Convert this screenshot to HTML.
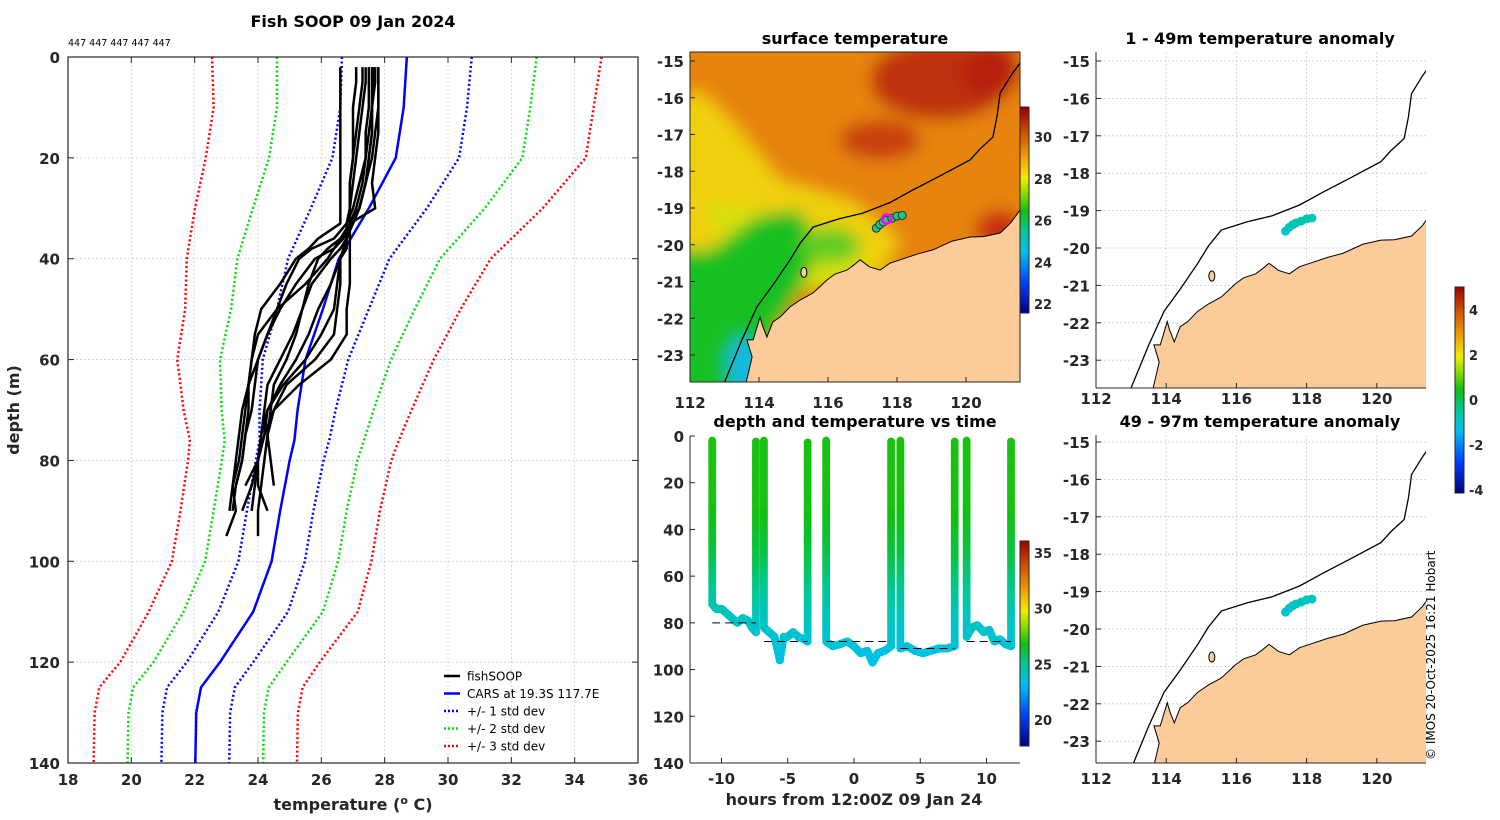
<!DOCTYPE html>
<html><head><meta charset="utf-8"><style>
html,body{margin:0;padding:0;background:#fff;}
svg{display:block;font-family:"DejaVu Sans","Liberation Sans",sans-serif;}
.tk{font-size:15px;font-weight:bold;fill:#262626;}
.ttl{font-size:16px;font-weight:bold;fill:#000;}
</style></head><body>
<svg id="fig" width="1500" height="820" viewBox="0 0 1500 820" xmlns="http://www.w3.org/2000/svg">
<defs>
<filter id="blur" x="-20%" y="-20%" width="140%" height="140%"><feGaussianBlur stdDeviation="8"/></filter>
<clipPath id="clipSST"><rect x="690" y="52" width="330" height="330"/></clipPath>
<clipPath id="clipR1"><rect x="1096" y="52" width="330" height="336"/></clipPath>
<clipPath id="clipR2"><rect x="1096" y="435" width="330" height="328"/></clipPath>
<clipPath id="clipL"><rect x="68" y="57" width="570" height="706"/></clipPath>
</defs>
<text x="353" y="27" text-anchor="middle" style="font-size:16px;font-weight:bold">Fish SOOP 09 Jan 2024</text>
<text x="68" y="46" style="font-size:9.5px">447 447 447 447 447</text>
<text transform="translate(19,410) rotate(-90)" text-anchor="middle" class="tk" style="font-size:16px">depth (m)</text>
<text x="353" y="810" text-anchor="middle" class="tk" style="font-size:16px">temperature (<tspan dy="-6" style="font-size:11px">o</tspan><tspan dy="6"> C)</tspan></text>
<text x="855" y="44" text-anchor="middle" class="ttl">surface temperature</text>
<text x="855" y="427" text-anchor="middle" class="ttl">depth and temperature vs time</text>
<text x="854" y="805" text-anchor="middle" class="tk" style="font-size:16px">hours from 12:00Z 09 Jan 24</text>
<text x="1260" y="44" text-anchor="middle" class="ttl">1 - 49m temperature anomaly</text>
<text x="1260" y="427" text-anchor="middle" class="ttl">49 - 97m temperature anomaly</text>
<text transform="translate(1435,760) rotate(-90)" style="font-size:12px">© IMOS 20-Oct-2025 16:21 Hobart</text>
</svg>
<script>
// ---------- DATA ----------
const carsDepth = [0,10,20,30,40,50,60,70,76,80,90,100,110,120,125,130,140];
const carsMean  = [28.7,28.6,28.35,27.5,26.55,26.05,25.5,25.25,25.15,25.0,24.7,24.43,23.85,22.8,22.2,22.05,22.02];
const carsStd   = [2.05,2.0,2.0,1.83,1.6,1.45,1.35,1.2,1.1,1.07,1.05,1.05,1.1,1.05,1.07,1.07,1.07];
const profDepth = [2,5,10,15,20,25,30,33,36,38,40,45,50,55,60,65,70,75,80,85,90,95];
const prof1 = [26.6,26.6,26.6,26.6,26.6,26.6,26.6,26.6,25.9,25.6,25.2,24.7,24.1,23.9,23.8,23.7,23.6,23.5,23.4,23.2,23.3,23.0];
const prof2 = [27.8,27.8,27.8,27.8,27.7,27.6,27.7,26.9,26.6,26.4,26.2,25.5,24.6,24.0,23.8,23.7,23.7,23.6,23.5,23.3,23.2];
const prof3 = [27.3,27.3,27.2,27.1,27.0,26.9,26.9,26.9,26.9,26.9,26.9,26.9,26.8,26.8,26.3,25.3,24.5,24.2,24.0,23.9,23.8];
const prof4 = [27.5,27.5,27.5,27.4,27.4,27.3,27.1,26.9,26.8,26.7,26.6,26.5,26.4,26.0,25.5,24.8,24.3,24.2,24.0,23.6];
const prof5 = [27.7,27.7,27.6,27.6,27.5,27.4,27.2,27.0,26.8,26.6,26.3,25.7,25.4,25.1,24.7,24.3,24.2,24.1,24.0,24.0,24.3];
const prof6 = [27.6,27.6,27.6,27.6,27.5,27.4,27.2,26.9,26.7,26.4,25.8,25.2,24.7,24.3,24.0,23.9,23.8,23.6,23.5,23.3];
const prof7 = [27.1,27.1,27.0,27.0,27.0,26.9,26.9,26.8,26.8,26.7,26.6,26.6,26.5,26.4,25.8,24.9,24.5,24.3,24.2,24.1,24.0,24.0];
const prof8 = [27.4,27.4,27.3,27.2,27.1,27.0,26.9,26.9,26.8,26.8,26.6,26.3,25.9,25.6,25.2,24.7,24.3,24.1,24.0,23.8,23.5];
const prof9 = [27.8,27.8,27.8,27.7,27.6,27.4,27.2,27.0,26.6,26.2,25.9,25.6,25.4,25.2,24.9,24.5,24.4,24.3,24.4,24.5];
const prof10= [27.65,27.65,27.6,27.5,27.4,27.2,27.0,26.8,26.4,25.7,25.3,24.9,24.6,24.3,24.0,23.7,23.5,23.4,23.3,23.2,23.1];
const profiles = [prof1,prof2,prof3,prof4,prof5,prof6,prof7,prof8,prof9,prof10];
const tempTicks = [18,20,22,24,26,28,30,32,34,36];
const depthTicks = [0,20,40,60,80,100,120,140];

const seg1T=[-10.7,-10.4,-10.0,-9.6,-9.2,-8.8,-8.4,-8.0,-7.7,-7.4];
const seg1D=[72,74,74,76,78,80,78,79,82,84];
const seg2T=[-6.8,-6.4,-6.0,-5.6,-5.3,-5.0,-4.6,-4.2,-3.8,-3.5];
const seg2D=[82,84,86,96,86,86,84,86,87,88];
const seg3T=[-2.1,-1.6,-1.0,-0.5,0,0.5,1.0,1.4,1.8,2.3,2.8];
const seg3D=[88,90,89,88,90,93,92,97,93,92,90];
const seg4T=[3.5,4.0,4.6,5.2,5.8,6.4,7.0,7.6];
const seg4D=[91,90,92,93,92,91,91,90];
const seg5T=[8.5,8.9,9.3,9.8,10.2,10.6,11.0,11.4,11.85];
const seg5D=[86,82,81,84,83,88,87,89,90];
const segTimes=[seg1T,seg2T,seg3T,seg4T,seg5T];
const segDepths=[seg1D,seg2D,seg3D,seg4D,seg5D];
const meanBottom=[80,88,88,91,88];
const hourTicks=[-10,-5,0,5,10];
const tdDepthTicks=[0,20,40,60,80,100,120,140];

const coastLon=[121.6,121.57,121.3,120.99,120.5,120.12,119.6,119.04,118.6,118.09,117.8,117.51,117.2,116.93,116.75,116.55,116.2,115.97,115.57,115.2,114.90,114.61,114.4,114.23,114.1,114.03,113.83,113.65,113.80,113.59];
const coastLat=[-19.0,-19.05,-19.4,-19.68,-19.78,-19.79,-19.9,-20.14,-20.25,-20.41,-20.5,-20.69,-20.6,-20.41,-20.55,-20.69,-20.8,-20.96,-21.31,-21.5,-21.69,-21.97,-22.1,-22.51,-22.2,-21.97,-22.59,-22.59,-23.05,-23.9];
const shelfLon=[112.93,113.5,113.94,114.4,114.90,115.2,115.57,116.3,117.01,117.8,118.46,119.3,120.12,120.4,120.78,120.9,120.99,121.3,121.57];
const shelfLat=[-23.9,-22.6,-21.69,-21.1,-20.41,-19.95,-19.52,-19.3,-19.14,-18.85,-18.51,-18.1,-17.69,-17.4,-17.07,-16.5,-15.87,-15.4,-15.05];
const shipLon=[117.4,117.5,117.6,117.7,117.85,118.0,118.15];
const shipLat=[-19.55,-19.45,-19.38,-19.33,-19.28,-19.22,-19.2];
const anom1=[-1.0,-0.9,-0.8,-0.7,-0.6,-0.6,-0.7];
const anom2=[-1.1,-1.0,-0.9,-0.9,-0.8,-0.8,-0.9];
const lonTicks=[112,114,116,118,120];
const latTicks=[-15,-16,-17,-18,-19,-20,-21,-22,-23];
const sstTicks=[22,24,26,28,30];
const anomTicks=[4,2,0,-2,-4];
const tdColorTicks=[20,25,30,35];

// ---------- HELPERS ----------
const NS='http://www.w3.org/2000/svg';
const svg=document.getElementById('fig');
function mk(tag,attrs,parent){const e=document.createElementNS(NS,tag);for(const k in attrs)e.setAttribute(k,attrs[k]);(parent||svg).appendChild(e);return e;}
const cmStops=[[0,[0,0,128]],[0.15,[0,64,255]],[0.3,[0,192,240]],[0.4,[0,200,150]],[0.5,[16,192,16]],[0.6,[160,224,0]],[0.66,[240,236,0]],[0.76,[240,160,0]],[0.88,[208,80,0]],[1,[160,0,0]]];
function jet(x){x=Math.max(0,Math.min(1,x));for(let i=1;i<cmStops.length;i++){if(x<=cmStops[i][0]){const a=cmStops[i-1],b=cmStops[i];const f=(x-a[0])/(b[0]-a[0]);const c=a[1].map((v,k)=>Math.round(v+(b[1][k]-v)*f));return `rgb(${c[0]},${c[1]},${c[2]})`;}}return 'rgb(160,0,0)';}
function grp(name){const g=mk('g',{});return g;}

// ---------- LEFT PROFILE PANEL ----------
const L={x0:68,x1:638,y0:57,y1:763};
const xT=t=>L.x0+(t-18)/(36-18)*(L.x1-L.x0);
const yD=d=>L.y0+d/140*(L.y1-L.y0);
const gL=grp('profile-panel');
tempTicks.forEach(t=>{
 const gl=mk('line',{x1:xT(t),x2:xT(t),y1:L.y0,y2:L.y1,stroke:'#c8cce0','stroke-width':0.8,'stroke-dasharray':'2,2'},gL);
 
 
 mk('line',{x1:xT(t),x2:xT(t),y1:L.y1,y2:L.y1-6,stroke:'#262626'},gL);
 mk('line',{x1:xT(t),x2:xT(t),y1:L.y0,y2:L.y0+6,stroke:'#262626'},gL);
 const tl=mk('text',{x:xT(t),y:L.y1+22,'text-anchor':'middle',class:'tk'},gL);
 tl.textContent=t;
 
 
});
depthTicks.forEach(d=>{
 const gl=mk('line',{x1:L.x0,x2:L.x1,y1:yD(d),y2:yD(d),stroke:'#c8cce0','stroke-width':0.8,'stroke-dasharray':'2,2'},gL);
 
 
 mk('line',{x1:L.x0,x2:L.x0+6,y1:yD(d),y2:yD(d),stroke:'#262626'},gL);
 mk('line',{x1:L.x1,x2:L.x1-6,y1:yD(d),y2:yD(d),stroke:'#262626'},gL);
 const tl=mk('text',{x:L.x0-8,y:yD(d)+6,'text-anchor':'end',class:'tk'},gL);
 tl.textContent=d;
 
 
});
const gLc=mk('g',{'clip-path':'url(#clipL)'},gL);
const sdCols={1:'#0000ff',2:'#00dd00',3:'#ff0000'};
[3,2,1].forEach(k=>{[-1,1].forEach(s=>{
 const pts=carsDepth.map((d,i)=>xT(carsMean[i]+s*k*carsStd[i])+','+yD(d)).join(' ');
 const pl=mk('polyline',{points:pts,fill:'none',stroke:sdCols[k],'stroke-width':2.5,'stroke-dasharray':'2,2.5'},gLc);
 
 
});});
const carsLine=mk('polyline',{points:carsDepth.map((d,i)=>xT(carsMean[i])+','+yD(d)).join(' '),fill:'none',stroke:'#0000ff','stroke-width':2.5},gLc);


profiles.forEach((p,j)=>{
 const pl=mk('polyline',{points:p.map((t,i)=>xT(t)+','+yD(profDepth[i])).join(' '),fill:'none',stroke:'#000','stroke-width':2.5,'stroke-linejoin':'round'},gLc);
 
 
});
const boxL=mk('rect',{x:L.x0,y:L.y0,width:L.x1-L.x0,height:L.y1-L.y0,fill:'none',stroke:'#262626','stroke-width':1.2},gL);


const legItems=[['fishSOOP','#000',''],['CARS at 19.3S 117.7E','#0000ff',''],['+/- 1 std dev','#0000ff','2,2'],['+/- 2 std dev','#00dd00','2,2'],['+/- 3 std dev','#ff0000','2,2']];
const gLeg=grp('legend');
legItems.forEach((it,i)=>{
 const y=676+i*17.5;
 const ln=mk('line',{x1:444,x2:460,y1:y,y2:y,stroke:it[1],'stroke-width':2.5,'stroke-dasharray':it[2]},gLeg);
 
 
 const tx=mk('text',{x:467,y:y+4.5,style:'font-size:12px'},gLeg);
 tx.textContent=it[0];
 
 
});

// ---------- MAP HELPERS ----------
function mapProj(latTopPx,pxLat,pxLon,lon0px){
 return {x:lon=>lon0px+(lon-112)*pxLon, y:lat=>latTopPx+(-15-lat)*pxLat};
}
function drawMapBase(P,box,clipId,name,withGrid){
 const g=grp(name);
 const gc=mk('g',{'clip-path':`url(#${clipId})`},g);
 if(withGrid){
  lonTicks.forEach(l=>{const gl=mk('line',{x1:P.x(l),x2:P.x(l),y1:box.y0,y2:box.y1,stroke:'#c8cce0','stroke-width':0.8,'stroke-dasharray':'2,2'},gc);
   
   });
  latTicks.forEach(l=>{const gl=mk('line',{x1:box.x0,x2:box.x1,y1:P.y(l),y2:P.y(l),stroke:'#c8cce0','stroke-width':0.8,'stroke-dasharray':'2,2'},gc);
   
   });
 }
 return {g,gc};
}
function landAndLines(P,gc,box){
 let pts=coastLon.map((l,i)=>P.x(l)+','+P.y(coastLat[i])).join(' ');
 pts+=` ${box.x1+5},${box.y1+5} ${box.x1+5},${P.y(-19.0)}`;
 const land=mk('polygon',{points:pts,fill:'#fbcb9a',stroke:'#000','stroke-width':1},gc);
 
 
 const sh=mk('polyline',{points:shelfLon.map((l,i)=>P.x(l)+','+P.y(shelfLat[i])).join(' '),fill:'none',stroke:'#000','stroke-width':1.3},gc);
 
 
 const isl=mk('ellipse',{cx:P.x(115.3),cy:P.y(-20.75),rx:3,ry:5,fill:'#fbcb9a',stroke:'#000','stroke-width':1},gc);
 
 
}
function mapTicks(P,box,g,lonLabelY){
 lonTicks.forEach(l=>{
  const t=mk('text',{x:P.x(l),y:lonLabelY,'text-anchor':'middle',class:'tk'},g);
  t.textContent=l;
  
  
  mk('line',{x1:P.x(l),x2:P.x(l),y1:box.y1,y2:box.y1-5,stroke:'#262626'},g);
 });
 latTicks.forEach(l=>{
  if(P.y(l)<box.y0||P.y(l)>box.y1)return;
  const t=mk('text',{x:box.x0-6,y:P.y(l)+6,'text-anchor':'end',class:'tk'},g);
  t.textContent=l;
  
  
  mk('line',{x1:box.x0,x2:box.x0+5,y1:P.y(l),y2:P.y(l),stroke:'#262626'},g);
 });
}

// ---------- SST MAP ----------
const B1={x0:690,x1:1020,y0:52,y1:382};
const P1=mapProj(61,36.75,34.5,690);
const m1=drawMapBase(P1,B1,'clipSST','sst-map',false);
const sstField=mk('g',{filter:'url(#blur)'},m1.gc);


mk('rect',{x:660,y:30,width:400,height:380,fill:'#e6840c'},sstField);
mk('ellipse',{cx:940,cy:80,rx:70,ry:40,fill:'#c03008'},sstField);
mk('ellipse',{cx:990,cy:70,rx:30,ry:30,fill:'#b82008'},sstField);
mk('ellipse',{cx:880,cy:140,rx:40,ry:20,fill:'#c84010'},sstField);
mk('ellipse',{cx:1000,cy:230,rx:25,ry:20,fill:'#c83008'},sstField);
mk('polygon',{points:'660,110 700,90 740,130 780,180 850,200 900,240 880,275 800,285 720,270 660,260',fill:'#f0d010'},sstField);
mk('polygon',{points:'700,200 760,210 810,250 860,250 870,280 800,290 740,260',fill:'#d8e010'},sstField);
mk('polygon',{points:'660,250 710,250 760,215 800,210 820,250 800,290 775,330 760,400 660,400',fill:'#18c020'},sstField);
mk('ellipse',{cx:830,cy:245,rx:30,ry:18,fill:'#60cc20'},sstField);
mk('ellipse',{cx:745,cy:365,rx:18,ry:28,fill:'#18b8e0'},sstField);
landAndLines(P1,m1.gc,B1);
shipLon.forEach((l,i)=>{
 const c=mk('circle',{cx:P1.x(l),cy:P1.y(shipLat[i]),r:4,fill:'#30c080',stroke:'#004040','stroke-width':1},m1.gc);
 
 
});
const cur=mk('circle',{cx:P1.x(117.7),cy:P1.y(-19.3),r:4.5,fill:'none',stroke:'#ff00ff','stroke-width':2.5},m1.g);


mk('rect',{x:B1.x0,y:B1.y0,width:330,height:330,fill:'none',stroke:'#262626'},m1.g);
mapTicks(P1,B1,m1.g,408);
const cb1=grp('sst-colorbar');
const sstY=v=>304-(v-22)*(304-137)/8;
for(let y=107;y<313;y++){const v=22+(304-y)/((304-137)/8);mk('rect',{x:1020,y:y,width:9,height:1.2,fill:jet((v-21.57)/(31.4-21.57))},cb1);}
mk('rect',{x:1020,y:107,width:9,height:206,fill:'none',stroke:'#262626'},cb1);
sstTicks.forEach(v=>{const t=mk('text',{x:1034,y:sstY(v)+5,class:'tk',style:'font-size:13px'},cb1);
 t.textContent=v;
 
 });

// ---------- DEPTH/TEMP VS TIME ----------
const T={x0:690,x1:1020,y0:436,y1:763};
const xH=h=>854+h*13.25;
const yTD=d=>436+d*(763-436)/140;
const gT=grp('time-panel');
function tempAt(d){if(d<30)return 27.0;if(d<50)return 27.0-(d-30)*0.04;if(d<80)return 26.2-(d-50)*0.07;return 24.1-(d-80)*0.04;}
const tdNorm=v=>(v-17.7)/(36.1-17.7);
function dot(h,d){return mk('circle',{cx:xH(h),cy:yTD(d),r:4,fill:jet(tdNorm(tempAt(d)))},gT);}
segTimes.forEach((ts,s)=>{
 const ds=segDepths[s];
 for(let d=2;d<ds[0];d+=1.2){dot(ts[0],d);}
 for(let i=0;i<ts.length-1;i++){for(let f=0;f<1;f+=0.1){dot(ts[i]+(ts[i+1]-ts[i])*f,ds[i]+(ds[i+1]-ds[i])*f);}}
 for(let d=ds[ds.length-1];d>2;d-=1.2){dot(ts[ts.length-1],d);}
 const ml=mk('line',{x1:xH(ts[0]),x2:xH(ts[ts.length-1]),y1:yTD(meanBottom[s]),y2:yTD(meanBottom[s]),stroke:'#000','stroke-width':1,'stroke-dasharray':'8,5'},gT);
 
 
});
mk('line',{x1:T.x0,x2:T.x0,y1:T.y0,y2:T.y1,stroke:'#262626'},gT);
mk('line',{x1:T.x0,x2:T.x1,y1:T.y1,y2:T.y1,stroke:'#262626'},gT);
hourTicks.forEach(h=>{const t=mk('text',{x:xH(h),y:784,'text-anchor':'middle',class:'tk'},gT);
 t.textContent=h;
 
 
 mk('line',{x1:xH(h),x2:xH(h),y1:T.y1,y2:T.y1-5,stroke:'#262626'},gT);});
tdDepthTicks.forEach(d=>{const t=mk('text',{x:684,y:yTD(d)+6,'text-anchor':'end',class:'tk'},gT);
 t.textContent=d;
 
 
 mk('line',{x1:T.x0,x2:T.x0+5,y1:yTD(d),y2:yTD(d),stroke:'#262626'},gT);});
const cb3=grp('time-colorbar');
const tdY=v=>720-(v-20)*(720-553)/15;
for(let y=541;y<746;y++){const v=20+(720-y)/((720-553)/15);mk('rect',{x:1020,y:y,width:9,height:1.2,fill:jet(tdNorm(v))},cb3);}
mk('rect',{x:1020,y:541,width:9,height:205,fill:'none',stroke:'#262626'},cb3);
tdColorTicks.forEach(v=>{const t=mk('text',{x:1034,y:tdY(v)+5,class:'tk',style:'font-size:13px'},cb3);
 t.textContent=v;
 
 });

// ---------- ANOMALY MAPS ----------
const B2={x0:1096,x1:1426,y0:52,y1:388};
const P2=mapProj(61,37.4,35.1,1096);
const m2=drawMapBase(P2,B2,'clipR1','anomaly-map-1',true);
landAndLines(P2,m2.gc,B2);
const anomN=v=>(v+4.08)/(5.07+4.08);
shipLon.forEach((l,i)=>{const c=mk('circle',{cx:P2.x(l),cy:P2.y(shipLat[i]),r:4.5,fill:jet(anomN(anom1[i]))},m2.gc);
 
 });
mk('line',{x1:B2.x0,x2:B2.x0,y1:B2.y0,y2:B2.y1,stroke:'#262626'},m2.g);
mk('line',{x1:B2.x0,x2:B2.x1,y1:B2.y1,y2:B2.y1,stroke:'#262626'},m2.g);
mapTicks(P2,B2,m2.g,404);

const B3={x0:1096,x1:1426,y0:435,y1:763};
const P3=mapProj(442,37.4,35.1,1096);
const m3=drawMapBase(P3,B3,'clipR2','anomaly-map-2',true);
landAndLines(P3,m3.gc,B3);
shipLon.forEach((l,i)=>{const c=mk('circle',{cx:P3.x(l),cy:P3.y(shipLat[i]),r:4.5,fill:jet(anomN(anom2[i]))},m3.gc);
 
 });
mk('line',{x1:B3.x0,x2:B3.x0,y1:B3.y0,y2:B3.y1,stroke:'#262626'},m3.g);
mk('line',{x1:B3.x0,x2:B3.x1,y1:B3.y1,y2:B3.y1,stroke:'#262626'},m3.g);
mapTicks(P3,B3,m3.g,784);

const cb2=grp('anomaly-colorbar');
const anY=v=>400-v*22.5;
for(let y=287;y<493;y++){const v=(400-y)/22.5;mk('rect',{x:1455,y:y,width:9,height:1.2,fill:jet(anomN(v))},cb2);}
mk('rect',{x:1455,y:287,width:9,height:206,fill:'none',stroke:'#262626'},cb2);
anomTicks.forEach(v=>{const t=mk('text',{x:1469,y:anY(v)+5,class:'tk',style:'font-size:13px'},cb2);
 t.textContent=v;
 
 });
</script>
</body></html>
